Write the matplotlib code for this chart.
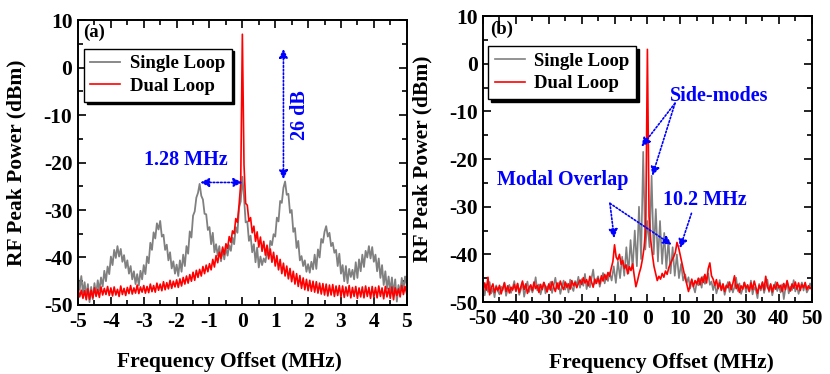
import numpy as np
import matplotlib
matplotlib.use('Agg')
import matplotlib.pyplot as plt
from matplotlib.ticker import MultipleLocator

plt.rcParams['font.family'] = ['Liberation Serif', 'DejaVu Serif']
plt.rcParams['font.weight'] = 'bold'
plt.rcParams['axes.unicode_minus'] = False

# ---------------- Panel (a) data ----------------
freq_a = np.round(np.linspace(-5, 5, 201), 2)
single_a = [
    -44.0, -46.8, -43.9, -47.5, -45.2, -48.3, -45.6, -49.4, -46.2, -48.8, -45.4, -47.9, -44.8, -47.0, -44.2, -46.1, -42.8, -45.0, -41.9, -43.5,
    -39.8, -41.6, -38.4, -40.1, -37.6, -39.8, -38.2, -40.9, -39.5, -42.2, -40.6, -43.4, -41.8, -44.6, -42.9, -45.6, -43.5, -45.9, -42.8, -44.6,
    -41.6, -43.5, -39.8, -41.2, -36.9, -38.4, -34.7, -36.0, -32.8, -34.1, -32.3, -35.6, -35.2, -38.4, -37.3, -40.6, -38.9, -42.3, -40.8, -43.4,
    -41.5, -43.9, -40.6, -43.0, -39.4, -41.8, -37.6, -39.2, -34.5, -35.8, -31.2, -30.3, -27.4, -26.4, -24.5, -27.0, -27.8, -30.8, -30.9, -34.2,
    -33.6, -37.2, -34.8, -38.9, -37.2, -39.6, -37.6, -40.8, -38.2, -40.4, -37.9, -39.6, -37.4, -38.6, -35.8, -37.2, -33.6, -34.8, -29.5, -28.2,
    -23.0,
    -27.2, -32.6, -32.4, -36.5, -35.4, -38.9, -37.2, -41.0, -37.9, -42.1, -39.8, -41.6, -40.2, -41.0, -38.8, -39.6, -36.5, -37.4, -35.1, -35.6,
    -31.6, -32.4, -28.1, -28.5, -25.3, -24.0, -26.8, -26.6, -30.6, -30.0, -34.6, -33.8, -38.0, -36.5, -40.6, -39.7, -41.8, -40.6, -43.0, -41.4,
    -43.2, -40.9, -42.5, -39.4, -42.4, -38.3, -40.0, -36.1, -36.9, -34.6, -33.4, -35.6, -34.8, -37.6, -36.9, -39.0, -38.4, -41.8, -39.2, -43.4,
    -41.6, -45.0, -41.8, -45.4, -42.4, -44.1, -42.6, -44.6, -41.0, -44.3, -40.4, -42.9, -39.4, -42.0, -38.6, -40.0, -37.6, -40.2, -37.8, -40.9,
    -39.4, -42.9, -40.2, -44.3, -41.6, -45.8, -42.9, -46.6, -44.0, -47.3, -44.2, -47.9, -44.6, -49.3, -45.8, -47.5, -44.3, -46.8, -44.0, -45.8,
]
dual_a = [
    -46.5, -48.3, -46.9, -48.6, -47.0, -48.9, -46.6, -48.8, -46.9, -48.5, -46.4, -48.2, -46.7, -48.4, -46.2, -47.9, -46.5, -47.8, -46.1, -48.0,
    -46.4, -48.1, -46.2, -47.9, -46.7, -48.2, -46.0, -47.8, -46.5, -48.0, -46.3, -47.6, -45.9, -47.7, -46.4, -47.5, -45.8, -47.6, -46.2, -47.3,
    -45.9, -47.5, -46.1, -47.4, -45.6, -47.2, -45.9, -47.3, -45.4, -46.9, -45.6, -47.0, -45.1, -46.8, -45.3, -46.6, -44.8, -46.5, -45.0, -46.2,
    -44.7, -46.3, -44.5, -46.0, -44.2, -45.6, -43.9, -45.4, -43.6, -45.0, -43.1, -44.8, -42.7, -44.2, -42.5, -43.9, -41.9, -43.4, -41.6, -43.0,
    -41.3, -42.6, -40.4, -42.0, -39.6, -41.1, -38.9, -40.2, -37.8, -39.4, -37.1, -38.1, -35.6, -36.8, -34.4, -35.0, -31.8, -32.6, -28.9, -24.5,
    7.0,
    -20.5, -28.6, -29.0, -32.4, -31.6, -34.8, -33.4, -36.6, -34.6, -37.8, -35.7, -38.7, -36.6, -39.5, -37.4, -40.3, -38.2, -41.0, -38.9, -41.8,
    -39.6, -42.6, -40.4, -43.4, -41.2, -43.9, -41.8, -44.5, -42.3, -45.1, -42.9, -45.6, -43.4, -46.1, -43.8, -46.5, -44.3, -46.8, -44.6, -47.0,
    -44.8, -47.1, -45.0, -47.3, -45.1, -47.5, -45.4, -47.7, -45.5, -47.9, -45.6, -48.1, -45.8, -47.9, -45.7, -48.2, -46.0, -48.0, -45.9, -48.3,
    -46.0, -48.4, -46.2, -48.1, -45.9, -48.5, -46.3, -48.2, -46.1, -48.6, -46.4, -48.3, -46.2, -48.5, -46.0, -48.2, -46.3, -48.6, -46.1, -48.4,
    -46.3, -48.5, -46.0, -48.2, -46.4, -48.7, -46.1, -48.3, -46.5, -48.6, -46.2, -48.9, -46.4, -48.0, -46.6, -48.3, -45.9, -47.8, -46.1, -47.6,
]

# ---------------- Panel (b) data ----------------
freq_b_dual = np.round(np.linspace(-50, 50, 201), 2)
dual_b = [
    -48.2, -46.0, -47.5, -44.8, -48.5, -47.0, -46.2, -48.0, -46.8, -47.6,
    -46.5, -48.3, -47.1, -46.0, -47.8, -46.6, -48.1, -46.9, -47.5, -46.3,
    -47.7, -46.1, -48.0, -46.8, -45.6, -47.4, -46.2, -48.2, -47.0, -46.4,
    -47.6, -45.8, -47.2, -46.5, -48.0, -46.3, -47.4, -45.9, -46.8, -47.9,
    -46.2, -47.5, -45.7, -46.9, -47.8, -46.0, -47.3, -45.6, -46.7, -47.4,
    -45.8, -46.9, -46.2, -47.3, -45.5, -46.6, -45.9, -47.0, -46.1, -45.4,
    -46.3, -44.9, -46.0, -45.3, -46.6, -44.6, -45.8, -46.9, -45.2, -46.1,
    -45.0, -46.2, -44.5, -45.6, -44.2, -45.3, -43.8, -44.6, -42.9, -41.5,
    -38.0, -40.6, -41.2, -40.0, -42.1, -41.3, -43.0, -42.2, -44.1, -42.6,
    -43.4, -42.0, -44.5, -46.8, -45.5, -44.0, -42.8, -41.0, -38.5, -34.5,
    3.0,
    -32.0, -37.0, -40.0, -42.5, -44.0, -45.5, -44.6, -45.2, -44.0, -44.8,
    -43.5, -44.2, -42.8, -42.0, -41.2, -40.5, -39.6, -37.5, -38.6, -40.2,
    -41.8, -43.5, -45.0, -46.3, -47.8, -46.5, -45.2, -46.8, -45.5, -46.2,
    -45.0, -46.4, -44.8, -45.9, -44.2, -46.0, -43.0, -41.8, -44.5, -45.2,
    -46.5, -45.3, -47.2, -46.0, -47.5, -46.2, -47.8, -46.5, -47.0, -45.8,
    -47.4, -46.1, -44.5, -47.2, -46.3, -48.0, -46.6, -47.3, -45.9, -47.1,
    -46.4, -47.8, -46.0, -47.4, -45.6, -46.9, -48.2, -46.5, -47.2, -45.8,
    -47.5, -44.6, -46.8, -47.6, -46.2, -47.9, -46.4, -47.3, -45.9, -47.0,
    -46.5, -47.8, -46.1, -47.4, -45.5, -46.9, -47.7, -46.2, -47.1, -45.8,
    -47.3, -46.0, -47.6, -46.3, -47.0, -45.9, -47.4, -46.6, -47.2, -46.8,
]
freq_b_single = np.round(np.concatenate([np.arange(-50, -11.4, 0.5),
                                         np.arange(-17, 18) * 0.64,
                                         np.arange(11.5, 50.1, 0.5)]), 2)
single_b = [
    -47.0, -48.6, -46.3, -47.9, -45.8, -48.2, -47.1, -49.0, -46.5, -47.7,
    -48.4, -46.8, -47.5, -45.9, -48.7, -47.3, -46.4, -48.1, -47.0, -45.6,
    -47.8, -46.2, -48.5, -47.4, -46.0, -48.9, -47.2, -45.7, -47.9, -46.6,
    -48.0, -46.9, -44.8, -47.6, -46.3, -48.4, -47.0, -45.9, -48.2, -46.7,
    -47.3, -45.8, -48.1, -46.5, -44.9, -47.2, -46.0, -48.3, -46.8, -45.5,
    -47.4, -46.1, -48.0, -45.3, -46.9, -47.7, -45.6, -46.4, -44.7, -47.0,
    -45.2, -46.6, -44.1, -47.3, -45.8, -46.9, -45.0, -43.2, -46.2, -45.4,
    -44.6, -46.8, -45.3, -43.9, -46.1, -44.4, -45.6, -43.8,
    # comb of side-modes around the carrier
    -45.5, -42.5, -46.0, -41.5, -45.0, -40.5, -44.5, -38.5, -44.0, -37.0,
    -43.0, -35.0, -42.5, -30.0, -41.0, -18.5, -39.0, -33.0, -38.5, -23.5,
    -40.0, -30.5, -41.5, -33.0, -42.0, -35.5, -43.0, -37.0, -44.0, -38.5,
    -44.5, -40.0, -45.0, -42.0, -45.5,
    -44.2, -46.0, -44.8, -47.2, -45.5, -46.8, -48.0, -45.9,
    -46.5, -45.1, -47.0, -44.6, -46.2, -45.3, -44.0, -46.4, -45.7, -47.5,
    -46.0, -48.2, -46.9, -45.4, -47.6, -46.3, -48.5, -47.0, -45.8, -47.9,
    -46.4, -48.0, -46.8, -44.9, -47.7, -46.1, -48.3, -47.2, -45.9, -48.0,
    -46.6, -47.8, -45.5, -48.4, -46.9, -47.5, -49.2, -46.2, -47.6, -46.0,
    -48.1, -46.7, -45.3, -47.9, -46.4, -48.6, -47.0, -45.8, -47.7, -46.5,
    -48.0, -46.3, -49.4, -47.1, -45.7, -48.2, -46.8, -47.5, -45.4, -47.8,
    -46.6, -48.3, -47.0, -45.9, -47.6, -46.2, -48.0, -47.3, -46.1, -47.2,
]

series_labels = ['Single Loop', 'Dual Loop']
y_ticks = [-50, -40, -30, -20, -10, 0, 10]

GRAY = '#808080'
RED = '#FF0000'
BLUE = '#0000FF'
FS_TICK = 15.5
FS_LABEL = 15.5

fig = plt.figure(figsize=(8.3, 3.74), dpi=100)
ax_a = fig.add_axes([0.094, 0.1845, 0.396, 0.762])
ax_b = fig.add_axes([0.582, 0.1925, 0.396, 0.7647])


def style_axes(ax, xmin, xmax, xmaj, xmin_step):
    ax.set_xlim(xmin, xmax)
    ax.set_ylim(-50, 10)
    ax.xaxis.set_major_locator(MultipleLocator(xmaj))
    ax.xaxis.set_minor_locator(MultipleLocator(xmin_step))
    ax.set_yticks(y_ticks)
    ax.yaxis.set_minor_locator(MultipleLocator(5))
    ax.tick_params(which='both', direction='in', top=True, right=True,
                   width=1.2, labelsize=FS_TICK)
    ax.tick_params(which='major', length=6)
    ax.tick_params(which='minor', length=3.5)
    ax.tick_params(axis='x', pad=5)
    ax.tick_params(axis='y', pad=4)
    for s in ax.spines.values():
        s.set_linewidth(1.4)
    ax.set_ylabel('RF Peak Power (dBm)', fontsize=FS_LABEL, fontweight='bold')
    ax.set_xlabel('Frequency Offset (MHz)', fontsize=FS_LABEL, fontweight='bold')


def add_legend(ax, anchor):
    leg = ax.legend(loc='upper left', bbox_to_anchor=anchor, borderaxespad=0,
                    frameon=True, fancybox=False, shadow={'color': 'black', 'alpha': 1.0},
                    edgecolor='black', framealpha=1, fontsize=13.5,
                    handlelength=1.6, handletextpad=0.5, borderpad=0.35,
                    labelspacing=0.3)
    leg.get_frame().set_linewidth(1.0)
    for t in leg.get_texts():
        t.set_fontweight('bold')


def dotted_arrow(ax, start, end, style='-|>'):
    ax.annotate('', xy=end, xytext=start,
                arrowprops=dict(arrowstyle=style, color=BLUE, lw=1.2,
                                linestyle=(0, (1, 1.2)), mutation_scale=13,
                                shrinkA=0, shrinkB=0))


# ---- Panel (a)
ax_a.plot(freq_a, single_a, color=GRAY, lw=1.3, label=series_labels[0])
ax_a.plot(freq_a, dual_a, color=RED, lw=1.2, label=series_labels[1])
style_axes(ax_a, -5, 5, 1, 0.5)
ax_a.yaxis.set_label_coords(-0.158, 0.5)
ax_a.xaxis.set_label_coords(0.46, -0.165)
add_legend(ax_a, (0.018, 0.9))
ax_a.text(-4.85, 7.5, '(a)', fontsize=13.5, fontweight='bold', va='center', ha='left')
ax_a.text(-1.72, -19.5, '1.28 MHz', color=BLUE, fontsize=14.5, fontweight='bold',
          ha='center', va='center')
dotted_arrow(ax_a, (-1.28, -24.2), (0.0, -24.2), style='<|-|>')
ax_a.text(1.75, -10.0, '26 dB', color=BLUE, fontsize=14.5, fontweight='bold',
          rotation=90, ha='center', va='center')
dotted_arrow(ax_a, (1.25, -23.5), (1.25, 3.9), style='<|-|>')

# ---- Panel (b)
ax_b.plot(freq_b_single, single_b, color=GRAY, lw=1.2, label=series_labels[0])
ax_b.plot(freq_b_dual, dual_b, color=RED, lw=1.2, label=series_labels[1])
style_axes(ax_b, -50, 50, 10, 5)
ax_b.yaxis.set_label_coords(-0.155, 0.5)
ax_b.xaxis.set_label_coords(0.544, -0.178)
add_legend(ax_b, (0.015, 0.895))
ax_b.text(-47.9, 7.3, '(b)', fontsize=13.5, fontweight='bold', va='center', ha='left')
ax_b.text(21.9, -6.8, 'Side-modes', color=BLUE, fontsize=14.5, fontweight='bold',
          ha='center', va='center')
dotted_arrow(ax_b, (8.4, -8.3), (-1.8, -17.4))
dotted_arrow(ax_b, (8.4, -8.3), (1.5, -23.5))
ax_b.text(-25.8, -24.4, 'Modal Overlap', color=BLUE, fontsize=14.5, fontweight='bold',
          ha='center', va='center')
dotted_arrow(ax_b, (-11.4, -29.3), (-10.1, -36.6))
dotted_arrow(ax_b, (-11.4, -29.3), (7.4, -38.0))
ax_b.text(17.5, -28.6, '10.2 MHz', color=BLUE, fontsize=14.5, fontweight='bold',
          ha='center', va='center')
dotted_arrow(ax_b, (13.4, -31.4), (9.9, -38.7))

fig.savefig('out.png', dpi=100)
